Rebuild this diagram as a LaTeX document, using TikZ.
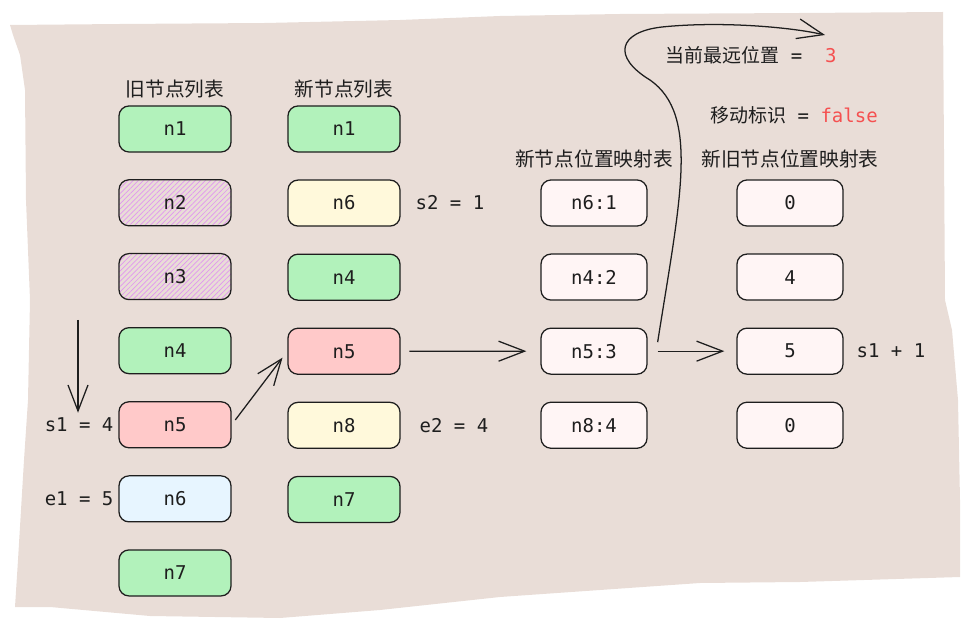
\documentclass[tikz,border=0pt]{standalone}
\usepackage{xcolor}
\usepackage{fontspec}
\setmonofont{DejaVu Sans Mono}
\newfontfamily\cjkfont{Noto Sans CJK SC}
\usepackage{tikz}
\usetikzlibrary{arrows.meta,positioning,patterns.meta}
\definecolor{sketchPaper}{RGB}{233,221,215}
\definecolor{sketchInk}{RGB}{30,30,30}
\definecolor{sketchGreen}{RGB}{178,242,187}
\definecolor{sketchRed}{RGB}{255,201,201}
\definecolor{sketchYellow}{RGB}{255,249,219}
\definecolor{sketchBlue}{RGB}{231,245,255}
\definecolor{sketchPink}{RGB}{255,245,245}
\definecolor{sketchHatch}{RGB}{225,150,240}
\definecolor{sketchAlert}{RGB}{245,80,80}

\begin{document}
\begin{tikzpicture}[x=0.025cm,y=-0.025cm,
  item/.style={draw=sketchInk,line width=0.9pt,rounded corners=0.25cm,minimum width=2.8cm,minimum height=1.15cm,inner sep=0pt,text=sketchInk,font=\ttfamily\fontsize{13.5}{16}\selectfont},
  mapitem/.style={item,minimum width=2.65cm,fill=sketchPink},
  hatched/.style={pattern={Lines[angle=45,distance=2.6pt,line width=0.5pt]},pattern color=sketchHatch},
  title/.style={text=sketchInk,font=\cjkfont\fontsize{14}{17}\selectfont},
  note/.style={text=sketchInk,font=\ttfamily\fontsize{13.5}{16}\selectfont},
  arrow/.style={-{Straight Barb[length=0.65cm,width=0.5cm]},draw=sketchInk,line width=0.9pt}
]
  \useasboundingbox (0,0) rectangle (969,629);
  % paper
  \fill[sketchPaper] (10,25) -- (120,24) -- (265,23) -- (400,20) -- (500,16) -- (620,14) -- (800,13) -- (943,12)
    -- (944,150) -- (945,300) -- (952,330) -- (958,400) -- (960,500) -- (960,577)
    -- (800,582) -- (700,583) -- (600,590) -- (500,597) -- (380,610) -- (280,618) -- (150,616) -- (50,607) -- (15,607)
    -- (18,560) -- (24,460) -- (28,400) -- (30,300) -- (26,200) -- (25,90) -- (20,55) -- (13,35) -- cycle;

  % old list
  \node[item,fill=sketchGreen] (od1) at (175,129) {n1};
  \node[item,hatched,below=0.67cm of od1] (od2) {n2};
  \node[item,hatched,below=0.67cm of od2] (od3) {n3};
  \node[item,fill=sketchGreen,below=0.67cm of od3] (od4) {n4};
  \node[item,fill=sketchRed,below=0.67cm of od4] (od5) {n5};
  \node[item,fill=sketchBlue,below=0.67cm of od5] (od6) {n6};
  \node[item,fill=sketchGreen,below=0.67cm of od6] (od7) {n7};
  \node[title,above=0.05cm of od1] (oldhead) {旧节点列表};

  % new list
  \node[item,fill=sketchGreen] (nw1) at (344,129) {n1};
  \node[item,fill=sketchYellow,below=0.67cm of nw1] (nw2) {n6};
  \node[item,fill=sketchGreen,below=0.67cm of nw2] (nw3) {n4};
  \node[item,fill=sketchRed,below=0.67cm of nw3] (nw4) {n5};
  \node[item,fill=sketchYellow,below=0.67cm of nw4] (nw5) {n8};
  \node[item,fill=sketchGreen,below=0.67cm of nw5] (nw6) {n7};
  \node[title,above=0.05cm of nw1] (newhead) {新节点列表};

  % maps
  \node[mapitem] (mp1) at (594,203) {n6:1};
  \node[mapitem,below=0.67cm of mp1] (mp2) {n4:2};
  \node[mapitem,below=0.67cm of mp2] (mp3) {n5:3};
  \node[mapitem,below=0.67cm of mp3] (mp4) {n8:4};
  \node[title,above=0.15cm of mp1] (maphead) {新节点位置映射表};

  \node[mapitem] (ix1) at (790,203) {0};
  \node[mapitem,below=0.67cm of ix1] (ix2) {4};
  \node[mapitem,below=0.67cm of ix2] (ix3) {5};
  \node[mapitem,below=0.67cm of ix3] (ix4) {0};
  \node[title,above=0.15cm of ix1] (ixhead) {新旧节点位置映射表};

  % notes
  \node[note,left=0pt of od5] (s1) {s1 = 4};
  \node[note,left=0pt of od6] (e1) {e1 = 5};
  \node[note,right=0.25cm of nw2] (s2) {s2 = 1};
  \node[note,right=0.35cm of nw5] (e2) {e2 = 4};
  \node[note,right=0.2cm of ix3] (plus) {s1 + 1};
  \node[note] (far) at (751,55) {{\cjkfont 当前最远位置}\ =\ \ \textcolor{sketchAlert}{3}};
  \node[note] (moved) at (794,115) {{\cjkfont 移动标识}\ =\ \textcolor{sketchAlert}{false}};

  \coordinate (s1top) at (78,320);
  \coordinate (farTip) at (825,35);

  \draw[arrow] (s1top) -- (s1top |- s1.north);
  \draw[arrow,shorten <=0.15cm,shorten >=0.2cm] (od5.east) -- (nw4.west);
  \draw[arrow,shorten <=0.22cm,shorten >=0.35cm] (nw4.east) -- (mp3.west);
  \draw[arrow,shorten <=0.25cm,shorten >=0.3cm] (mp3.east) -- (ix3.west);
  \draw[arrow] ([shift={(10,-9)}]mp3.east) .. controls (680,200) and (700,115) .. (650,80)
    .. controls (612,57) and (618,32) .. (662,27) .. controls (720,21) and (790,27) .. (farTip);
\end{tikzpicture}
\end{document}
